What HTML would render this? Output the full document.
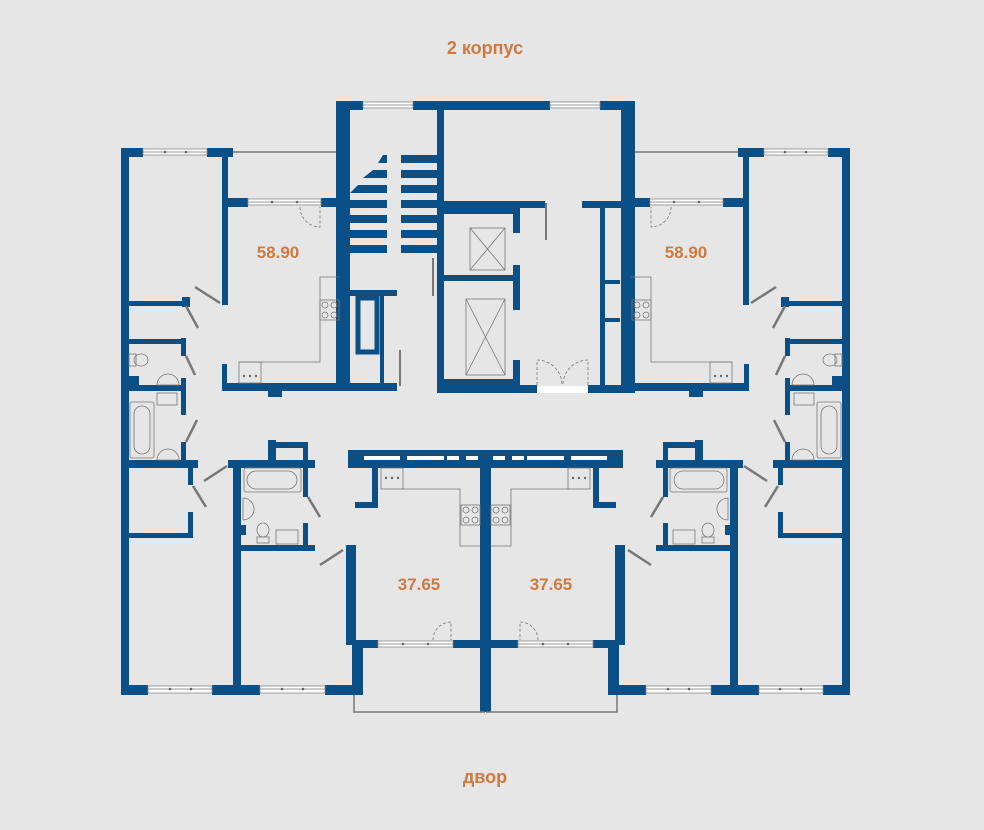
<!DOCTYPE html>
<html><head><meta charset="utf-8"><style>
html,body{margin:0;padding:0;background:#e6e6e6;}
svg{display:block;}
text{font-family:"Liberation Sans",sans-serif;font-weight:bold;fill:#cf7a40;}
</style></head><body>
<svg width="984" height="830" viewBox="0 0 984 830" xmlns="http://www.w3.org/2000/svg">
<rect width="984" height="830" fill="#e6e6e6"/>
<defs>
<g id="half">
 <g fill="#0b4f87">
  <rect x="121" y="148" width="8" height="547"/>
  <rect x="121" y="148" width="22" height="9"/>
  <rect x="207" y="148" width="26" height="9"/>
  <rect x="222" y="148" width="6" height="157"/>
  <rect x="222" y="198" width="26" height="9"/>
  <rect x="321" y="198" width="19" height="9"/>
  <rect x="336" y="101" width="14" height="290"/>
  <rect x="222" y="364" width="5" height="27"/>
  <rect x="222" y="383" width="123" height="8"/>
  <rect x="268" y="391" width="14" height="6"/>
  <rect x="129" y="301" width="61" height="5"/>
  <rect x="182" y="297" width="8" height="10"/>
  <rect x="129" y="339" width="56" height="5"/>
  <rect x="181" y="338" width="5" height="18"/>
  <rect x="129" y="385" width="56" height="6"/>
  <rect x="181" y="378" width="5" height="37"/>
  <rect x="129" y="376" width="10" height="10"/>
  <rect x="181" y="442" width="5" height="18"/>
  <rect x="129" y="460" width="69" height="8"/>
  <rect x="188" y="467" width="5" height="18"/>
  <rect x="188" y="512" width="5" height="26"/>
  <rect x="129" y="533" width="63" height="5"/>
  <rect x="233" y="460" width="8" height="235"/>
  <rect x="228" y="460" width="87" height="8"/>
  <rect x="268" y="440" width="8" height="20"/>
  <rect x="268" y="442" width="40" height="6"/>
  <rect x="303" y="442" width="5" height="55"/>
  <rect x="303" y="523" width="5" height="24"/>
  <rect x="241" y="545" width="74" height="6"/>
  <rect x="241" y="525" width="5" height="10"/>
  <rect x="121" y="685" width="27" height="10"/>
  <rect x="212" y="685" width="48" height="10"/>
  <rect x="325" y="685" width="38" height="10"/>
  <rect x="346" y="545" width="10" height="100"/>
  <rect x="352" y="640" width="11" height="55"/>
  <rect x="352" y="640" width="26" height="8"/>
  <rect x="453" y="640" width="32" height="8"/>
  <rect x="480" y="450" width="6" height="262"/>
  <rect x="348" y="450" width="138" height="18"/>
  <rect x="372" y="467" width="6" height="40"/>
  <rect x="355" y="502" width="23" height="6"/>
 </g>
 <g fill="#fff">
  <rect x="364" y="456" width="36" height="4"/><rect x="407" y="456" width="37" height="4"/>
  <rect x="447" y="456" width="12" height="4"/><rect x="466" y="456" width="12" height="4"/>
 </g>
 <g fill="#fff" stroke="#888" stroke-width="0.8">
  <rect x="143" y="149" width="64" height="6"/>
  <rect x="248" y="199" width="73" height="6"/>
  <rect x="148" y="686" width="64" height="7"/>
  <rect x="260" y="686" width="65" height="7"/>
  <rect x="378" y="641" width="75" height="6"/>
 </g>
 <g stroke="#777" stroke-width="0.8" fill="none">
  <line x1="143" y1="152" x2="207" y2="152"/><line x1="248" y1="202" x2="321" y2="202"/>
  <line x1="148" y1="689" x2="212" y2="689"/><line x1="260" y1="689" x2="325" y2="689"/>
  <line x1="378" y1="644" x2="453" y2="644"/>
  <line x1="233" y1="152" x2="336" y2="152" stroke-width="1.5"/>
  <polyline points="354,695 354,712 485,712" stroke-width="1.5"/>
  <polyline points="340,277 320,277 320,362 239,362"/>
  <rect x="239" y="362" width="22" height="21"/>
  <rect x="320" y="300" width="19" height="20"/>
  <circle cx="325" cy="305" r="3"/><circle cx="334" cy="305" r="3"/><circle cx="325" cy="315" r="3"/><circle cx="334" cy="315" r="3"/>
  <polyline points="403,489 460,489 460,546 480,546"/>
  <rect x="381" y="468" width="22" height="21"/>
  <rect x="461" y="505" width="19" height="20"/>
  <circle cx="466" cy="510" r="3"/><circle cx="475" cy="510" r="3"/><circle cx="466" cy="520" r="3"/><circle cx="475" cy="520" r="3"/>
  <rect x="130" y="402" width="24" height="56" rx="2"/><rect x="134" y="406" width="16" height="48" rx="8"/>
  <path d="M157,460 a11,11 0 0 1 22,0 z"/>
  <path d="M157,385 a11,11 0 0 1 22,0 z"/>
  <rect x="157" y="393" width="20" height="12"/>
  <rect x="129" y="354" width="7" height="12"/><ellipse cx="141" cy="360" rx="7" ry="6"/>
  <rect x="244" y="468" width="57" height="24" rx="2"/><rect x="247" y="471" width="50" height="18" rx="9"/>
  <path d="M243,498 a11,11 0 0 1 0,22 z"/>
  <ellipse cx="263" cy="530" rx="6" ry="7"/><rect x="257" y="537" width="12" height="6"/>
  <rect x="276" y="530" width="22" height="14"/>
  <line x1="195" y1="287" x2="220" y2="303" stroke-width="2.5"/>
  <line x1="186" y1="306" x2="198" y2="328" stroke-width="2.5"/>
  <line x1="186" y1="356" x2="195" y2="375" stroke-width="2.5"/>
  <line x1="186" y1="442" x2="197" y2="420" stroke-width="2.5"/>
  <line x1="204" y1="481" x2="227" y2="466" stroke-width="2.5"/>
  <line x1="193" y1="486" x2="206" y2="507" stroke-width="2.5"/>
  <line x1="308" y1="497" x2="320" y2="517" stroke-width="2.5"/>
  <line x1="320" y1="565" x2="343" y2="550" stroke-width="2.5"/>
  <path d="M300,207 a20,20 0 0 0 20,20 v-20" stroke-dasharray="3,2"/>
  <path d="M433,640 a18,18 0 0 1 18,-18 v18" stroke-dasharray="3,2"/>
 </g>
 <g fill="#666">
  <circle cx="165" cy="152" r="1.3"/><circle cx="186" cy="152" r="1.3"/>
  <circle cx="272" cy="202" r="1.3"/><circle cx="297" cy="202" r="1.3"/>
  <circle cx="170" cy="689" r="1.3"/><circle cx="191" cy="689" r="1.3"/>
  <circle cx="282" cy="689" r="1.3"/><circle cx="303" cy="689" r="1.3"/>
  <circle cx="403" cy="644" r="1.3"/><circle cx="428" cy="644" r="1.3"/>
  <circle cx="244" cy="376" r="1.2"/><circle cx="250" cy="376" r="1.2"/><circle cx="256" cy="376" r="1.2"/>
  <circle cx="386" cy="478" r="1.2"/><circle cx="392" cy="478" r="1.2"/><circle cx="398" cy="478" r="1.2"/>
 </g>
</g>
</defs>
<use href="#half"/>
<use href="#half" transform="translate(971,0) scale(-1,1)"/>
<g fill="#0b4f87">
 <rect x="336" y="101" width="27" height="9"/>
 <rect x="413" y="101" width="137" height="9"/>
 <rect x="600" y="101" width="33" height="9"/>
 <rect x="437" y="101" width="7" height="292"/>
 <rect x="401" y="155" width="36" height="8"/><rect x="401" y="170" width="36" height="8"/>
 <rect x="401" y="185" width="36" height="8"/><rect x="401" y="200" width="36" height="8"/>
 <rect x="401" y="215" width="36" height="8"/><rect x="401" y="230" width="36" height="8"/>
 <rect x="401" y="245" width="36" height="8"/>
 <rect x="350" y="200" width="37" height="8"/><rect x="350" y="215" width="37" height="8"/>
 <rect x="350" y="230" width="37" height="8"/><rect x="350" y="245" width="37" height="8"/>
 <polygon points="383,155 387,155 387,163 378,163"/>
 <polygon points="373,170 387,170 387,178 363,178"/>
 <polygon points="358,185 387,185 387,193 350,193"/>
 <rect x="350" y="290" width="47" height="6"/>
 <rect x="380" y="296" width="4" height="90"/>
 <rect x="350" y="383" width="47" height="8"/>
 <rect x="437" y="201" width="108" height="7"/>
 <rect x="582" y="201" width="51" height="7"/>
 <rect x="444" y="208" width="76" height="6"/>
 <rect x="444" y="275" width="76" height="6"/>
 <rect x="444" y="379" width="76" height="6"/>
 <rect x="513" y="208" width="7" height="25"/>
 <rect x="513" y="265" width="7" height="45"/>
 <rect x="513" y="360" width="7" height="25"/>
 <rect x="600" y="208" width="5" height="177"/>
 <rect x="605" y="280" width="15" height="4"/>
 <rect x="605" y="318" width="15" height="4"/>
 <rect x="437" y="385" width="100" height="8"/>
 <rect x="588" y="385" width="47" height="8"/>
</g>
<rect x="358" y="298" width="19" height="54" fill="none" stroke="#0b4f87" stroke-width="5"/>
<rect x="537" y="386" width="51" height="7" fill="#fff"/>
<g fill="#fff" stroke="#888" stroke-width="0.8">
 <rect x="363" y="102" width="50" height="6"/>
 <rect x="550" y="102" width="50" height="6"/>
</g>
<g stroke="#777" stroke-width="0.8" fill="none">
 <line x1="363" y1="105" x2="413" y2="105"/><line x1="550" y1="105" x2="600" y2="105"/>
 <rect x="470" y="228" width="35" height="42"/><path d="M470,228 L505,270 M505,228 L470,270"/>
 <rect x="466" y="299" width="39" height="76"/><path d="M466,299 L505,375 M505,299 L466,375"/>
 <line x1="546" y1="203" x2="546" y2="240" stroke-width="2"/>
 <line x1="433" y1="258" x2="433" y2="296" stroke-width="2"/>
 <line x1="400" y1="350" x2="400" y2="386" stroke-width="2"/>
 <path d="M537,385 v-25 a25,25 0 0 1 25,25 M588,385 v-25 a25,25 0 0 0 -25,25" stroke-dasharray="3,2"/>
</g>
<text x="485" y="54" font-size="18" text-anchor="middle">2 корпус</text>
<text x="485" y="783" font-size="18" text-anchor="middle">двор</text>
<text x="278" y="258" font-size="17" text-anchor="middle">58.90</text>
<text x="686" y="258" font-size="17" text-anchor="middle">58.90</text>
<text x="419" y="590" font-size="17" text-anchor="middle">37.65</text>
<text x="551" y="590" font-size="17" text-anchor="middle">37.65</text>
</svg>
</body></html>
